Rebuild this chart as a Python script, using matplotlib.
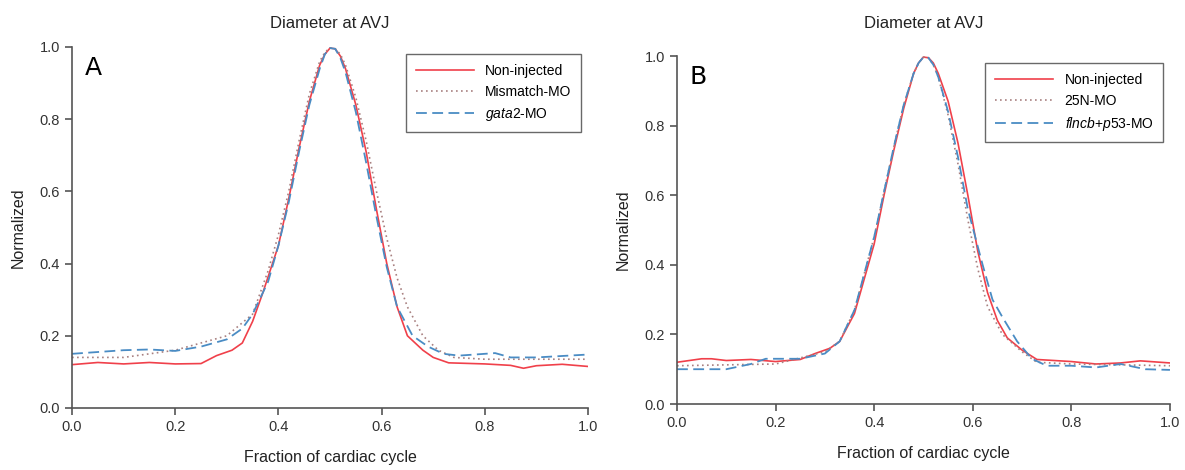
import matplotlib
matplotlib.use('Agg')
import matplotlib.pyplot as plt
import numpy as np

plt.rcParams['font.family'] = ['Liberation Sans', 'DejaVu Sans']
plt.rcParams['mathtext.fontset'] = 'custom'
plt.rcParams['mathtext.it'] = 'Liberation Sans:italic'
plt.rcParams['mathtext.rm'] = 'Liberation Sans'

# panel A values
xa_ctrl = [0.0, 0.05, 0.1, 0.15, 0.2, 0.25, 0.28, 0.31, 0.33, 0.35, 0.37, 0.40, 0.42, 0.44, 0.46, 0.48,
           0.49, 0.50, 0.51, 0.52, 0.53, 0.55, 0.57, 0.59, 0.61, 0.63, 0.65, 0.68, 0.70, 0.73, 0.8, 0.85,
           0.875, 0.9, 0.95, 1.0]
ya_ctrl = [0.12, 0.126, 0.122, 0.126, 0.122, 0.123, 0.145, 0.16, 0.18, 0.24, 0.32, 0.45, 0.58, 0.72, 0.85, 0.95,
           0.98, 0.997, 0.995, 0.975, 0.94, 0.84, 0.71, 0.55, 0.40, 0.28, 0.2, 0.16, 0.14, 0.125, 0.122, 0.118,
           0.11, 0.117, 0.121, 0.115]

xa_mis = [0.0, 0.1, 0.2, 0.3, 0.35, 0.38, 0.40, 0.42, 0.44, 0.46, 0.48, 0.49, 0.50, 0.51, 0.52, 0.53,
          0.55, 0.57, 0.59, 0.61, 0.63, 0.65, 0.68, 0.71, 0.74, 0.8, 1.0]
ya_mis = [0.14, 0.14, 0.16, 0.2, 0.26, 0.38, 0.48, 0.6, 0.74, 0.87, 0.96, 0.985, 0.998, 0.995, 0.98, 0.95,
          0.86, 0.74, 0.6, 0.47, 0.36, 0.28, 0.2, 0.16, 0.14, 0.135, 0.135]

xa_mo = [0.0, 0.05, 0.1, 0.15, 0.2, 0.25, 0.3, 0.33, 0.35, 0.38, 0.40, 0.42, 0.44, 0.46, 0.48, 0.49,
         0.50, 0.51, 0.52, 0.53, 0.55, 0.57, 0.59, 0.61, 0.63, 0.66, 0.69, 0.72, 0.75, 0.8, 0.82, 0.85,
         0.88, 0.9, 1.0]
ya_mo = [0.15, 0.155, 0.16, 0.162, 0.158, 0.17, 0.19, 0.22, 0.26, 0.35, 0.45, 0.57, 0.71, 0.84, 0.94, 0.98,
         0.997, 0.995, 0.97, 0.93, 0.82, 0.68, 0.53, 0.39, 0.28, 0.2, 0.17, 0.15, 0.145, 0.15, 0.152, 0.14,
         0.14, 0.14, 0.148]

# panel B values
xb_ctrl = [0.0, 0.05, 0.07, 0.1, 0.15, 0.2, 0.25, 0.28, 0.31, 0.33, 0.36, 0.38, 0.40, 0.42, 0.44, 0.46,
           0.48, 0.49, 0.50, 0.51, 0.52, 0.53, 0.55, 0.57, 0.59, 0.61, 0.63, 0.65, 0.67, 0.70, 0.73, 0.8,
           0.85, 0.9, 0.94, 1.0]
yb_ctrl = [0.12, 0.13, 0.13, 0.125, 0.128, 0.122, 0.128, 0.145, 0.16, 0.18, 0.26, 0.36, 0.46, 0.6, 0.73, 0.85,
           0.95, 0.98, 0.997, 0.995, 0.98, 0.95, 0.87, 0.75, 0.6, 0.44, 0.32, 0.24, 0.19, 0.155, 0.128, 0.122,
           0.115, 0.118, 0.124, 0.118]

xb_25n = [0.0, 0.2, 0.3, 0.33, 0.36, 0.40, 0.42, 0.44, 0.46, 0.48, 0.49, 0.50, 0.51, 0.52, 0.53, 0.55,
          0.57, 0.59, 0.61, 0.63, 0.66, 0.70, 0.73, 0.8, 1.0]
yb_25n = [0.11, 0.115, 0.15, 0.18, 0.27, 0.48, 0.61, 0.74, 0.86, 0.95, 0.98, 0.997, 0.995, 0.975, 0.94, 0.83,
          0.69, 0.53, 0.39, 0.28, 0.2, 0.15, 0.12, 0.115, 0.11]

xb_mo = [0.0, 0.1, 0.15, 0.18, 0.25, 0.3, 0.33, 0.36, 0.40, 0.42, 0.44, 0.46, 0.48, 0.49, 0.50, 0.51,
         0.52, 0.53, 0.55, 0.57, 0.59, 0.62, 0.64, 0.66, 0.69, 0.72, 0.75, 0.8, 0.85, 0.9, 0.95, 1.0]
yb_mo = [0.1, 0.1, 0.115, 0.13, 0.13, 0.145, 0.18, 0.27, 0.48, 0.61, 0.74, 0.86, 0.95, 0.98, 0.997, 0.995,
         0.975, 0.94, 0.84, 0.71, 0.56, 0.4, 0.3, 0.25, 0.18, 0.13, 0.11, 0.11, 0.105, 0.115, 0.1, 0.098]

red = '#f0404a'
dot = '#a88080'
blue = '#4a8cc4'
ticks = [0.0, 0.2, 0.4, 0.6, 0.8, 1.0]


def style(ax, letter, labels, tpad):
	ax.set_xlim(0, 1)
	ax.set_ylim(0, 1)
	ax.set_xticks(ticks)
	ax.set_yticks(ticks)
	ax.set_xticklabels(['%.1f' % t for t in ticks], size=10.5, color='#333333')
	ax.set_yticklabels(['%.1f' % t for t in ticks], size=10.5, color='#333333')
	for s in ['top', 'right']:
		ax.spines[s].set_visible(False)
	for s in ['left', 'bottom']:
		ax.spines[s].set_color('#555555')
		ax.spines[s].set_linewidth(1.2)
	ax.tick_params(direction='out', length=5, color='#555555', width=1.2)
	ax.set_title('Diameter at AVJ', size=12, color='#222222', pad=tpad)
	ax.set_xlabel('Fraction of cardiac cycle', size=11.5, color='#222222', labelpad=12)
	ax.set_ylabel('Normalized', size=11.5, color='#222222', labelpad=10)
	ax.text(0.025, 0.975, letter, transform=ax.transAxes, size=18, va='top', ha='left',
			family='DejaVu Sans')
	leg = ax.legend(labels, loc='upper right', fontsize=10, frameon=True, fancybox=False,
					edgecolor='#444444', handlelength=4.2, borderpad=0.7)
	leg.get_frame().set_linewidth(1.0)


fig = plt.figure(figsize=(11.85, 4.70), dpi=100)
axa = fig.add_axes([0.0608, 0.132, 0.4354, 0.768])
axb = fig.add_axes([0.5713, 0.1404, 0.416, 0.7404])

axa.plot(xa_ctrl, ya_ctrl, color=red, lw=1.2)
axa.plot(xa_mis, ya_mis, color=dot, lw=1.2, linestyle=(0, (1, 2)))
axa.plot(xa_mo, ya_mo, color=blue, lw=1.3, linestyle=(0, (6, 3)))
style(axa, 'A', ['Non-injected', 'Mismatch-MO', '$\\it{gata2}$-MO'], 14)

axb.plot(xb_ctrl, yb_ctrl, color=red, lw=1.2)
axb.plot(xb_25n, yb_25n, color=dot, lw=1.2, linestyle=(0, (1, 2)))
axb.plot(xb_mo, yb_mo, color=blue, lw=1.3, linestyle=(0, (6, 3)))
style(axb, 'B', ['Non-injected', '25N-MO', '$\\mathit{flncb}$+$\\mathit{p53}$-MO'], 20)

plt.savefig('out.png')
